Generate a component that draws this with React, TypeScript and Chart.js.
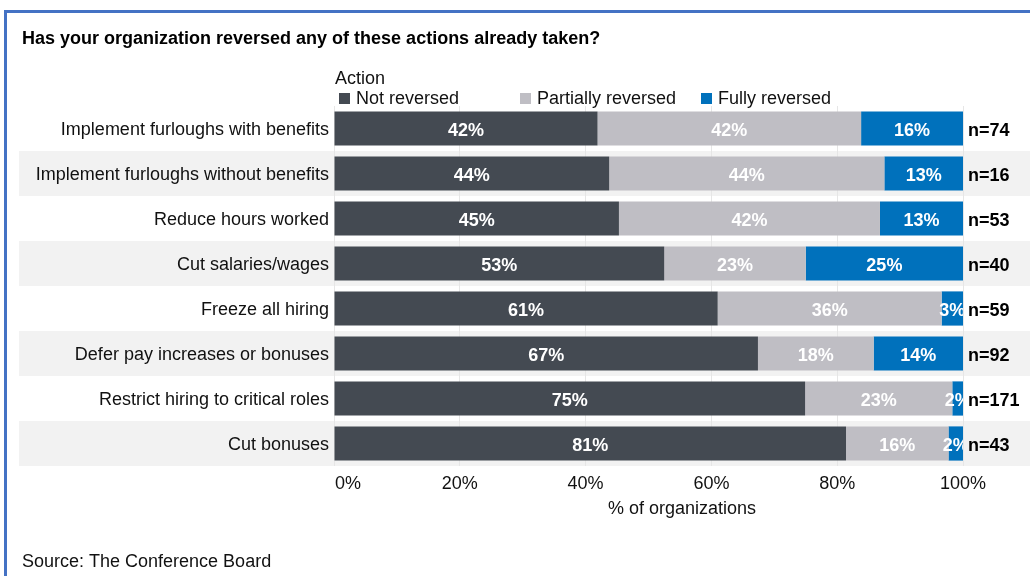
import React, { useEffect, useRef } from "react";
import { Chart, registerables } from "chart.js";

Chart.register(...registerables);

const chartTitle = "Has your organization reversed any of these actions already taken?";
const legendTitle = "Action";
const sourceText = "Source: The Conference Board";
const axisTitle = "% of organizations";

const categories = [
  "Implement furloughs with benefits",
  "Implement furloughs without benefits",
  "Reduce hours worked",
  "Cut salaries/wages",
  "Freeze all hiring",
  "Defer pay increases or bonuses",
  "Restrict hiring to critical roles",
  "Cut bonuses",
];
const seriesNames = ["Not reversed", "Partially reversed", "Fully reversed"];
const notReversed = [41.9, 43.75, 45.3, 52.5, 61.0, 67.4, 74.9, 81.4];
const partiallyReversed = [41.9, 43.75, 41.5, 22.5, 35.6, 18.4, 23.4, 16.3];
const fullyReversed = [16.2, 12.5, 13.2, 25.0, 3.4, 14.2, 1.7, 2.3];
const nCounts = ["n=74", "n=16", "n=53", "n=40", "n=59", "n=92", "n=171", "n=43"];
const xTicks = [0, 20, 40, 60, 80, 100];

const COLORS = ["#444a52", "#bfbec4", "#0071bc"];
const FONT = "'Liberation Sans', Arial, sans-serif";

export default function App() {
  const ref = useRef<HTMLCanvasElement | null>(null);

  useEffect(() => {
    document.body.style.margin = "0";
    const canvas = ref.current;
    if (!canvas) return;

    const decor = {
      id: "decor",
      beforeDraw(chart: any) {
        const ctx = chart.ctx;
        const ca = chart.chartArea;
        const y = chart.scales.y;
        const n = categories.length;
        const step = (ca.bottom - ca.top) / n;
        ctx.save();
        ctx.fillStyle = "#ffffff";
        ctx.fillRect(0, 0, chart.width, chart.height);
        ctx.fillStyle = "#f2f2f2";
        for (let i = 0; i < n; i++) {
          if (i % 2 === 1) {
            const c = y.getPixelForValue(i);
            ctx.fillRect(19, c - step / 2, chart.width - 19, step);
          }
        }
        ctx.restore();
      },
      afterDatasetsDraw(chart: any) {
        const ctx = chart.ctx;
        const ca = chart.chartArea;
        ctx.save();
        ctx.beginPath();
        ctx.rect(ca.left, ca.top, ca.right - ca.left, ca.bottom - ca.top);
        ctx.clip();
        ctx.font = `bold 18px ${FONT}`;
        ctx.textAlign = "center";
        ctx.textBaseline = "middle";
        ctx.fillStyle = "#ffffff";
        chart.data.datasets.forEach((ds: any, di: number) => {
          const meta = chart.getDatasetMeta(di);
          meta.data.forEach((bar: any, i: number) => {
            const v = ds.data[i];
            const cx = (bar.x + bar.base) / 2;
            ctx.fillText(Math.round(v) + "%", cx, bar.y + 2.5);
          });
        });
        ctx.restore();
      },
      afterDraw(chart: any) {
        const ctx = chart.ctx;
        const ca = chart.chartArea;
        const xs = chart.scales.x;
        const ys = chart.scales.y;
        ctx.save();
        // frame
        ctx.fillStyle = "#4472c4";
        ctx.fillRect(4, 10, chart.width - 4, 3);
        ctx.fillRect(4, 10, 3, chart.height - 10);
        // title
        ctx.fillStyle = "#000000";
        ctx.textBaseline = "middle";
        ctx.textAlign = "left";
        ctx.font = `bold 18px ${FONT}`;
        ctx.fillText(chartTitle, 22, 39);
        // legend
        ctx.font = `18px ${FONT}`;
        ctx.fillStyle = "#111111";
        ctx.fillText(legendTitle, 335, 79);
        const lx = [339, 520, 701];
        seriesNames.forEach((s, i) => {
          ctx.fillStyle = COLORS[i];
          ctx.fillRect(lx[i], 93, 11, 11);
          ctx.fillStyle = "#111111";
          ctx.fillText(s, lx[i] + 17, 99.5);
        });
        // n labels
        ctx.font = `bold 18px ${FONT}`;
        ctx.fillStyle = "#000000";
        nCounts.forEach((t, i) => {
          ctx.fillText(t, ca.right + 5, ys.getPixelForValue(i) + 2.5);
        });
        // x tick labels
        ctx.font = `18px ${FONT}`;
        ctx.fillStyle = "#111111";
        xTicks.forEach((v, i) => {
          const px = xs.getPixelForValue(v);
          ctx.textAlign = i === 0 ? "left" : "center";
          ctx.fillText(v + "%", i === 0 ? px + 1 : px, 484);
        });
        // axis title
        ctx.textAlign = "center";
        ctx.fillText(axisTitle, (ca.left + chart.width) / 2, 509);
        // source
        ctx.textAlign = "left";
        ctx.fillText(sourceText, 22, 562);
        ctx.restore();
      },
    };

    const chart = new Chart(canvas, {
      type: "bar",
      data: {
        labels: categories,
        datasets: [
          { label: seriesNames[0], data: notReversed, backgroundColor: COLORS[0] },
          { label: seriesNames[1], data: partiallyReversed, backgroundColor: COLORS[1] },
          { label: seriesNames[2], data: fullyReversed, backgroundColor: COLORS[2] },
        ],
      },
      options: {
        indexAxis: "y",
        responsive: false,
        animation: false,
        devicePixelRatio: 1,
        layout: { padding: { left: 0, right: 67, top: 106, bottom: 0 } },
        datasets: { bar: { categoryPercentage: 1, barPercentage: 0.76 } },
        plugins: {
          legend: { display: false },
          title: { display: false },
          tooltip: { enabled: false },
        },
        scales: {
          x: {
            stacked: true,
            min: 0,
            max: 100,
            ticks: { stepSize: 20, display: false },
            grid: { color: "#e6e6e6", drawTicks: false },
            border: { display: false },
            afterFit: (s: any) => {
              s.height = 110;
            },
          },
          y: {
            stacked: true,
            grid: { display: false, drawTicks: false },
            border: { display: false },
            ticks: {
              color: "#111111",
              padding: 5,
              labelOffset: 2,
              font: { family: FONT, size: 18 },
            },
            afterFit: (s: any) => {
              s.width = 334;
            },
          },
        },
      },
      plugins: [decor],
    } as any);

    return () => chart.destroy();
  }, []);

  return (
    <div style={{ position: "fixed", left: 0, top: 0, width: 1030, height: 576 }}>
      <canvas ref={ref} width={1030} height={576} style={{ width: 1030, height: 576 }} />
    </div>
  );
}
